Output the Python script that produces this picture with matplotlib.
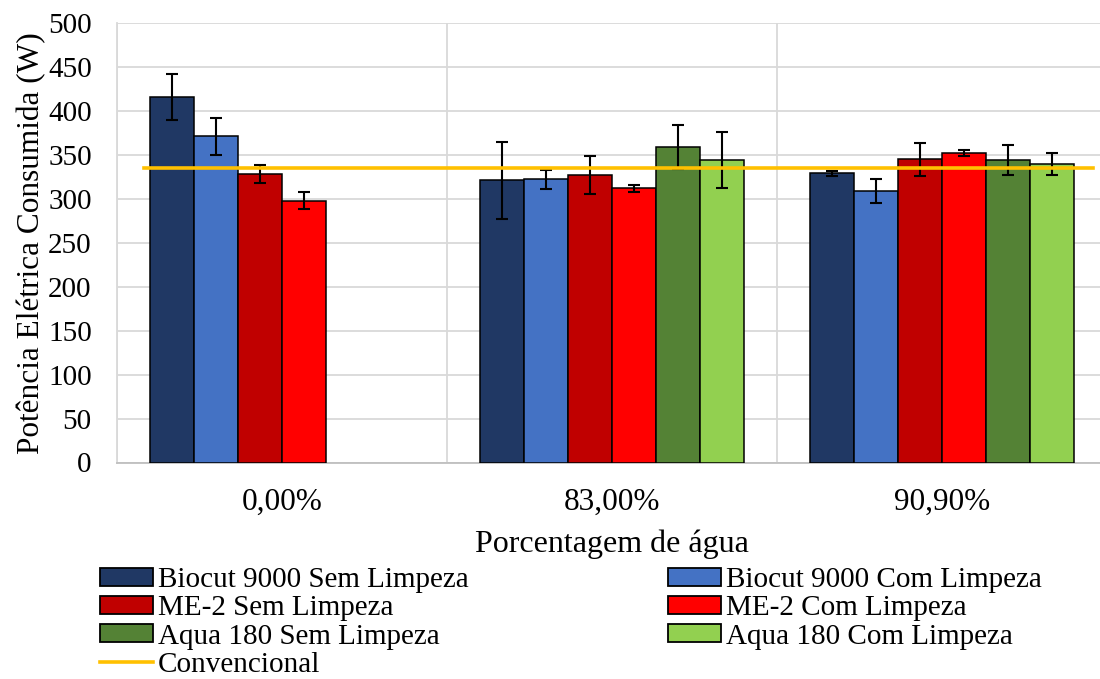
import numpy as np
import matplotlib
matplotlib.use("Agg")
import matplotlib.pyplot as plt
from matplotlib.patches import Patch
from matplotlib.lines import Line2D

plt.rcParams['font.family'] = ['Liberation Serif', 'DejaVu Serif']

categories = ['0,00%', '83,00%', '90,90%']
series_names = ['Biocut 9000 Sem Limpeza', 'Biocut 9000 Com Limpeza',
                'ME-2 Sem Limpeza', 'ME-2 Com Limpeza',
                'Aqua 180 Sem Limpeza', 'Aqua 180 Com Limpeza']
biocut_sem = [416, 321, 329]
biocut_com = [371, 322, 309]
me2_sem = [328, 327, 345]
me2_com = [298, 312, 352]
aqua_sem = [np.nan, 359, 344]
aqua_com = [np.nan, 344, 340]
biocut_sem_err = [26, 44, 3]
biocut_com_err = [21, 11, 14]
me2_sem_err = [10, 22, 19]
me2_com_err = [10, 4, 3]
aqua_sem_err = [np.nan, 25, 17]
aqua_com_err = [np.nan, 32, 12.5]
convencional = 335
colors = ['#203864', '#4472C4', '#C00000', '#FF0000', '#548235', '#92D050']
conv_color = '#FFC000'

values = [biocut_sem, biocut_com, me2_sem, me2_com, aqua_sem, aqua_com]
errors = [biocut_sem_err, biocut_com_err, me2_sem_err, me2_com_err, aqua_sem_err, aqua_com_err]

fig = plt.figure(figsize=(11, 6.79), dpi=100)
ax = fig.add_axes([116.7/1100, (679-462.5)/679, 990/1100, 439.5/679])

x = np.arange(len(categories))
n = len(values)
w = 0.8 / n
for i, (v, e) in enumerate(zip(values, errors)):
    pos = x - 0.4 + w*(i+0.5)
    ax.bar(pos, v, w, color=colors[i], edgecolor='black', linewidth=1.1, zorder=3)
    ax.errorbar(pos, v, yerr=e, fmt='none', ecolor='black', elinewidth=1.5,
                capsize=4.5, capthick=1.5, zorder=4)

ax.axhline(convencional, xmin=0.0276, xmax=0.986, color=conv_color, linewidth=2.6, zorder=5)

ax.set_xlim(-0.5, len(categories)-0.5)
ax.set_ylim(0, 500)
ax.set_yticks(np.arange(0, 501, 50))
ax.set_xticks(x)
ax.set_xticklabels(categories)
ax.set_xticks(np.arange(-0.5, len(categories), 1.0), minor=True)
ax.grid(axis='y', which='major', color='#D9D9D9', linewidth=1.3, zorder=0)
ax.grid(axis='x', which='minor', color='#D9D9D9', linewidth=1.3, zorder=0)
ax.tick_params(axis='both', which='both', length=0)
ax.tick_params(axis='y', labelsize=21, pad=18)
ax.tick_params(axis='x', labelsize=22.5, pad=18)
for s in ['top', 'right']:
    ax.spines[s].set_visible(False)
ax.spines['left'].set_color('#D9D9D9')
ax.spines['left'].set_linewidth(1.3)
ax.spines['bottom'].set_color('#BFBFBF')
ax.spines['bottom'].set_linewidth(1.3)

ax.set_ylabel('Potência Elétrica Consumida (W)', fontsize=22.5, labelpad=1.5)
ax.set_xlabel('Porcentagem de água', fontsize=23, labelpad=9.5)

handles = [Patch(facecolor=c, edgecolor='black', linewidth=1.3) for c in colors]
line_h = Line2D([0], [0], color=conv_color, linewidth=2.6)
order_h = [handles[0], handles[2], handles[4], line_h, handles[1], handles[3], handles[5]]
order_l = [series_names[0], series_names[2], series_names[4], 'Convencional',
           series_names[1], series_names[3], series_names[5]]
fig.legend(order_h, order_l, ncol=2, loc='upper left', bbox_to_anchor=(0.0909, 0.1645),
           frameon=False, fontsize=21, handlelength=1.81, handleheight=0.58,
           handletextpad=0.17, labelspacing=0.075, columnspacing=6.85, borderpad=0,
           borderaxespad=0)

fig.savefig('out.png', dpi=100)
